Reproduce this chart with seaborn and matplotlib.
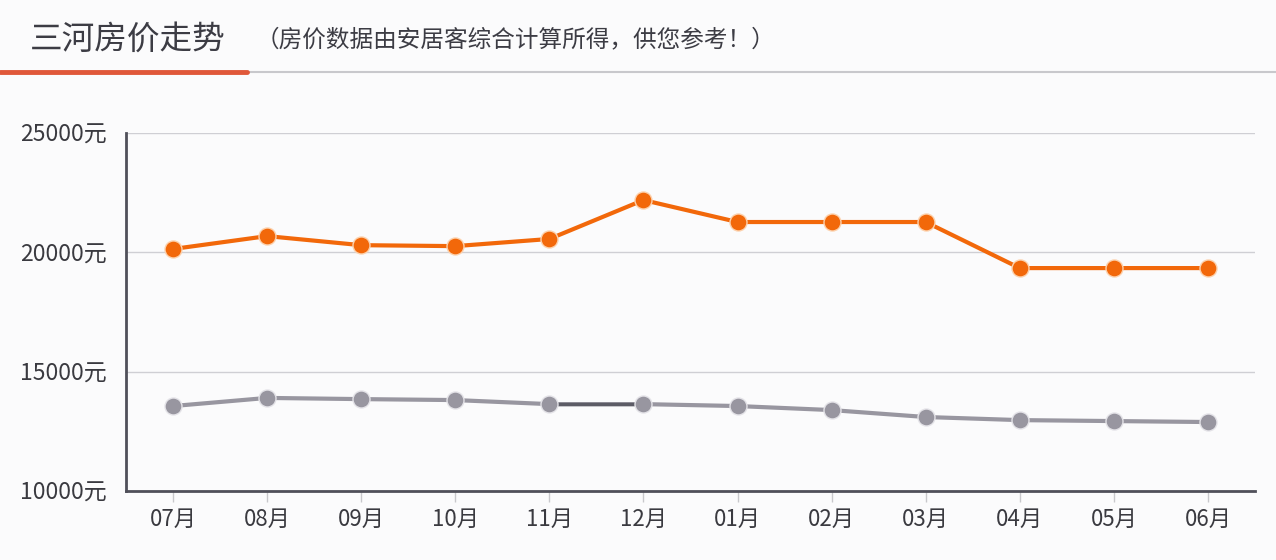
import matplotlib
matplotlib.use("Agg")
import matplotlib.pyplot as plt
import seaborn as sns
import pandas as pd

months = ["07月", "08月", "09月", "10月", "11月", "12月", "01月", "02月", "03月", "04月", "05月", "06月"]
sanhe_price = [20140, 20680, 20300, 20260, 20560, 22190, 21270, 21270, 21270, 19340, 19340, 19340]
other_price = [13560, 13900, 13850, 13810, 13640, 13640, 13560, 13390, 13100, 12970, 12930, 12890]
y_ticks = [10000, 15000, 20000, 25000]
y_tick_labels = ["10000元", "15000元", "20000元", "25000元"]
title = "三河房价走势"
subtitle = "（房价数据由安居客综合计算所得，供您参考！）"

sns.set_theme(style="white")
plt.rcParams['font.family'] = ['Noto Sans CJK SC', 'DejaVu Sans']

bg = "#fbfbfc"
fig = plt.figure(figsize=(12.76, 5.6), dpi=100, facecolor=bg)
ax = fig.add_axes([126 / 1276, 69 / 560, (1255 - 126) / 1276, (491 - 133) / 560])
ax.set_facecolor(bg)

df = pd.DataFrame({"month": months, "sanhe": sanhe_price, "other": other_price})

orange = "#f2680a"
gray = "#9896a0"

sns.lineplot(data=df, x="month", y="other", ax=ax, color=gray, linewidth=3, zorder=3)
sns.lineplot(data=df.iloc[4:6], x="month", y="other", ax=ax, color="#5c5c66", linewidth=2.5, zorder=3.2)
sns.scatterplot(data=df, x="month", y="other", ax=ax, color=gray, s=150,
                edgecolor="#e4e3e8", linewidth=1, zorder=3.5)
sns.lineplot(data=df, x="month", y="sanhe", ax=ax, color=orange, linewidth=3, zorder=4)
sns.scatterplot(data=df, x="month", y="sanhe", ax=ax, color=orange, s=150,
                edgecolor="#fcd2ae", linewidth=1, zorder=4.5)

ax.set_xlim(-0.5, 11.5)
ax.set_ylim(10000, 25000)
ax.set_yticks(y_ticks)
ax.set_yticklabels(y_tick_labels)
ax.set_xlabel("")
ax.set_ylabel("")
ax.yaxis.grid(True, color="#cfcfd4", linewidth=1)
ax.set_axisbelow(True)

for s in ["top", "right"]:
    ax.spines[s].set_visible(False)
for s in ["left", "bottom"]:
    ax.spines[s].set_color("#50505a")
    ax.spines[s].set_linewidth(2)

ax.tick_params(axis="y", length=0, pad=14, labelsize=16.5, labelcolor="#3a3a40")
ax.tick_params(axis="x", length=8, width=1, color="#c8c8cc", pad=4, labelsize=16, labelcolor="#3a3a40",
               direction="out", bottom=True)

fig.text(30 / 1276, 1 - 40 / 560, title, fontsize=23.5, color="#3c3c44", va="center", ha="left")
fig.text(256 / 1276, 1 - 40 / 560, subtitle, fontsize=17, color="#3c3c44", va="center", ha="left")

# header rules
fig.add_artist(plt.Line2D([247 / 1276, 1.0], [1 - 72 / 560, 1 - 72 / 560], color="#c8c8cc",
                          linewidth=1.5, transform=fig.transFigure))
fig.add_artist(plt.Line2D([0, 247 / 1276], [1 - 71.5 / 560, 1 - 71.5 / 560], color="#e0583a",
                          linewidth=3.5, transform=fig.transFigure))

fig.savefig("out.png", dpi=100, facecolor=bg)
